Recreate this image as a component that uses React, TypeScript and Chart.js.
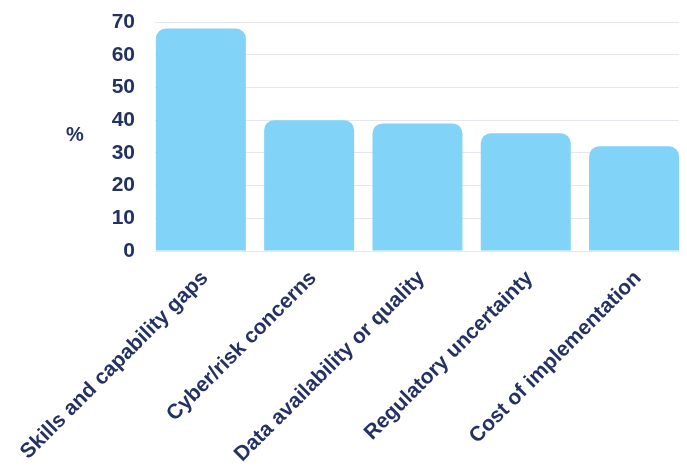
import React, { useEffect, useRef } from 'react';
import { Chart, registerables } from 'chart.js';

Chart.register(...registerables);

const categories = [
  'Skills and capability gaps',
  'Cyber/risk concerns',
  'Data availability or quality',
  'Regulatory uncertainty',
  'Cost of implementation',
];
const values = [68, 40, 39, 36, 32];
const yTicks = [0, 10, 20, 30, 40, 50, 60, 70];
const yAxisTitle = '%';

const NAVY = '#233263';
const BAR = '#81d3f8';
const GRID = '#e6e6ef';
const FONT = '"Liberation Sans", Arial, sans-serif';

export default function App() {
  const ref = useRef<HTMLCanvasElement>(null);

  useEffect(() => {
    document.body.style.margin = '0';
    const chart = new Chart(ref.current as HTMLCanvasElement, {
      type: 'bar',
      data: {
        datasets: [
          {
            data: values.map((v, i) => ({ x: i, y: v })),
            backgroundColor: BAR,
            borderRadius: 10,
            barPercentage: 0.831,
            categoryPercentage: 1,
          },
        ],
      },
      options: {
        animation: false,
        responsive: false,
        devicePixelRatio: 1,
        layout: { padding: { left: 111, right: 8, top: 22, bottom: 0 } },
        plugins: { legend: { display: false }, tooltip: { enabled: false } },
        scales: {
          x: {
            type: 'linear',
            min: -0.4234,
            max: 4.415,
            offset: false,
            grid: { offset: false, display: false },
            border: { display: false },
            afterBuildTicks: (s: any) => {
              s.ticks = categories.map((_, i) => ({ value: i }));
            },
            afterFit: (s: any) => {
              s.height = 215;
              s.paddingLeft = 0;
              s.paddingRight = 0;
            },
            ticks: {
              autoSkip: false,
              minRotation: 45,
              maxRotation: 45,
              padding: 7,
              labelOffset: 4,
              color: NAVY,
              font: { family: FONT, size: 21, weight: 'bold' },
              callback: (v: any) => categories[v as number] ?? '',
            },
          },
          y: {
            min: 0,
            max: 70,
            afterBuildTicks: (s: any) => {
              s.ticks = yTicks.map((v) => ({ value: v }));
            },
            afterFit: (s: any) => {
              s.width = 44;
              s.paddingTop = 0;
              s.paddingBottom = 0;
            },
            grid: { color: GRID, drawTicks: false, lineWidth: 1 },
            border: { display: false },
            ticks: {
              padding: 20,
              color: NAVY,
              font: { family: FONT, size: 21, weight: 'bold' },
            },
          },
        } as any,
      },
    });
    return () => chart.destroy();
  }, []);

  return (
    <div style={{ position: 'relative', width: 687, height: 466 }}>
      <canvas ref={ref} width={687} height={466} />
      <div
        style={{
          position: 'absolute',
          left: 66,
          top: 134,
          transform: 'translateY(-50%)',
          fontFamily: FONT,
          fontWeight: 'bold',
          fontSize: 20,
          color: NAVY,
          lineHeight: 1,
        }}
      >
        {yAxisTitle}
      </div>
    </div>
  );
}
